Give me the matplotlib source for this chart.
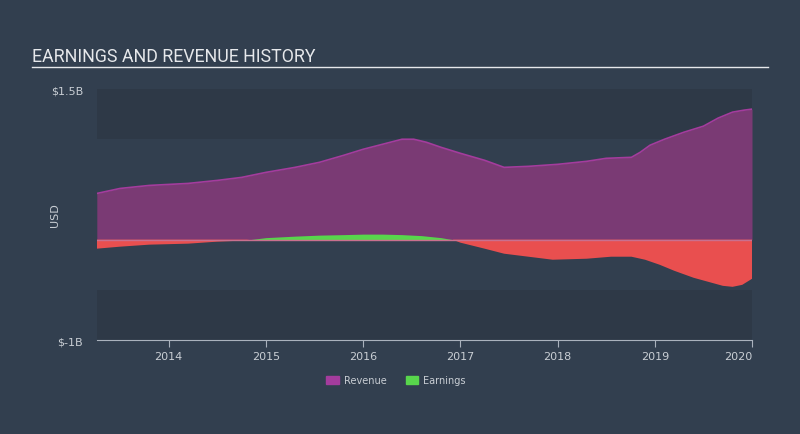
import numpy as np
import matplotlib.pyplot as plt

# values (USD billions, decimal years)
rev_years = [2013.26, 2013.50, 2013.80, 2014.20, 2014.50, 2014.75, 2015.00, 2015.30,
             2015.55, 2015.80, 2016.00, 2016.20, 2016.40, 2016.52, 2016.65, 2016.80,
             2017.00, 2017.25, 2017.45, 2017.70, 2018.00, 2018.30, 2018.50, 2018.76,
             2018.85, 2018.95, 2019.10, 2019.30, 2019.50, 2019.65, 2019.80, 2019.92, 2020.00]
revenue = [0.46, 0.51, 0.54, 0.56, 0.59, 0.62, 0.67, 0.72,
           0.77, 0.84, 0.90, 0.95, 1.00, 1.00, 0.97, 0.92,
           0.86, 0.79, 0.72, 0.73, 0.75, 0.78, 0.81, 0.82,
           0.87, 0.94, 1.00, 1.07, 1.13, 1.21, 1.27, 1.29, 1.30]

earn_years = [2013.26, 2013.50, 2013.80, 2014.20, 2014.50, 2014.75, 2015.00, 2015.30,
              2015.55, 2015.80, 2016.00, 2016.20, 2016.40, 2016.60, 2016.80, 2016.92,
              2017.00, 2017.25, 2017.45, 2017.70, 2017.95, 2018.30, 2018.55, 2018.76,
              2018.90, 2019.05, 2019.20, 2019.40, 2019.55, 2019.70, 2019.80, 2019.90, 2020.00]
earnings = [-0.09, -0.07, -0.05, -0.04, -0.02, -0.01, 0.02, 0.035,
            0.045, 0.05, 0.055, 0.055, 0.05, 0.04, 0.02, 0.00,
            -0.03, -0.09, -0.14, -0.17, -0.20, -0.19, -0.17, -0.17,
            -0.20, -0.25, -0.31, -0.38, -0.42, -0.46, -0.47, -0.45, -0.39]

bg = '#323f4f'
band = '#2e3947'
txt = '#c9ced4'

fig = plt.figure(figsize=(8, 4.35), dpi=100, facecolor=bg)
ax = fig.add_axes([0.121, 0.216, 0.819, 0.577])
ax.set_facecolor(bg)

ax.set_xlim(2013.26, 2020.0)
ax.set_ylim(-1, 1.5)

# horizontal bands
ax.axhspan(1.0, 1.5, color=band, lw=0, zorder=0)
ax.axhspan(-1.0, -0.5, color=band, lw=0, zorder=0)

ry = np.array(rev_years)
rv = np.array(revenue)
ax.fill_between(ry, 0, rv, color='#7a3a74', lw=0, zorder=2)
ax.plot(ry, rv, color='#a43c9d', lw=1.2, zorder=3)

ey = np.array(earn_years)
ev = np.array(earnings)
ax.fill_between(ey, 0, ev, where=ev >= 0, interpolate=True, color='#58d64c', lw=0, zorder=4)
ax.fill_between(ey, 0, ev, where=ev <= 0, interpolate=True, color='#e94f4f', lw=0, zorder=4)
ax.axhline(0, color='#c9708f', lw=1, zorder=5)

for s in ['top', 'right', 'left']:
    ax.spines[s].set_visible(False)
ax.spines['bottom'].set_color('#aab2bd')

ax.set_yticks([-1, 1.5])
ax.set_yticklabels(['$-1B', '$1.5B'], color=txt, fontsize=8)
ax.tick_params(axis='y', length=0, pad=10)
ax.set_xticks([2014, 2015, 2016, 2017, 2018, 2019, 2020])
labels = ax.set_xticklabels(['2014', '2015', '2016', '2017', '2018', '2019', '2020'],
                            color=txt, fontsize=8)
labels[-1].set_ha('right')
ax.tick_params(axis='x', colors='#aab2bd', length=5, labelcolor=txt, pad=3)
ax.set_ylabel('USD', color=txt, fontsize=8)
ax.yaxis.set_label_coords(-0.056, 0.5)

fig.text(0.04, 0.868, 'EARNINGS AND REVENUE HISTORY', color='#e6e8eb',
         fontsize=12.8, va='center', family='Roboto')
fig.add_artist(plt.Line2D([0.04, 0.96], [0.844, 0.844], color='#e6e8eb', lw=1))

# legend
handles = [plt.Rectangle((0, 0), 1, 1, color='#a43c9d'),
           plt.Rectangle((0, 0), 1, 1, color='#58d64c')]
fig.legend(handles, ['Revenue', 'Earnings'], loc='center', bbox_to_anchor=(0.495, 0.124),
           ncol=2, frameon=False, fontsize=7, labelcolor=txt,
           handlelength=1.3, handleheight=0.9, columnspacing=2.0, handletextpad=0.5)

fig.savefig('out.png', dpi=100, facecolor=bg)
